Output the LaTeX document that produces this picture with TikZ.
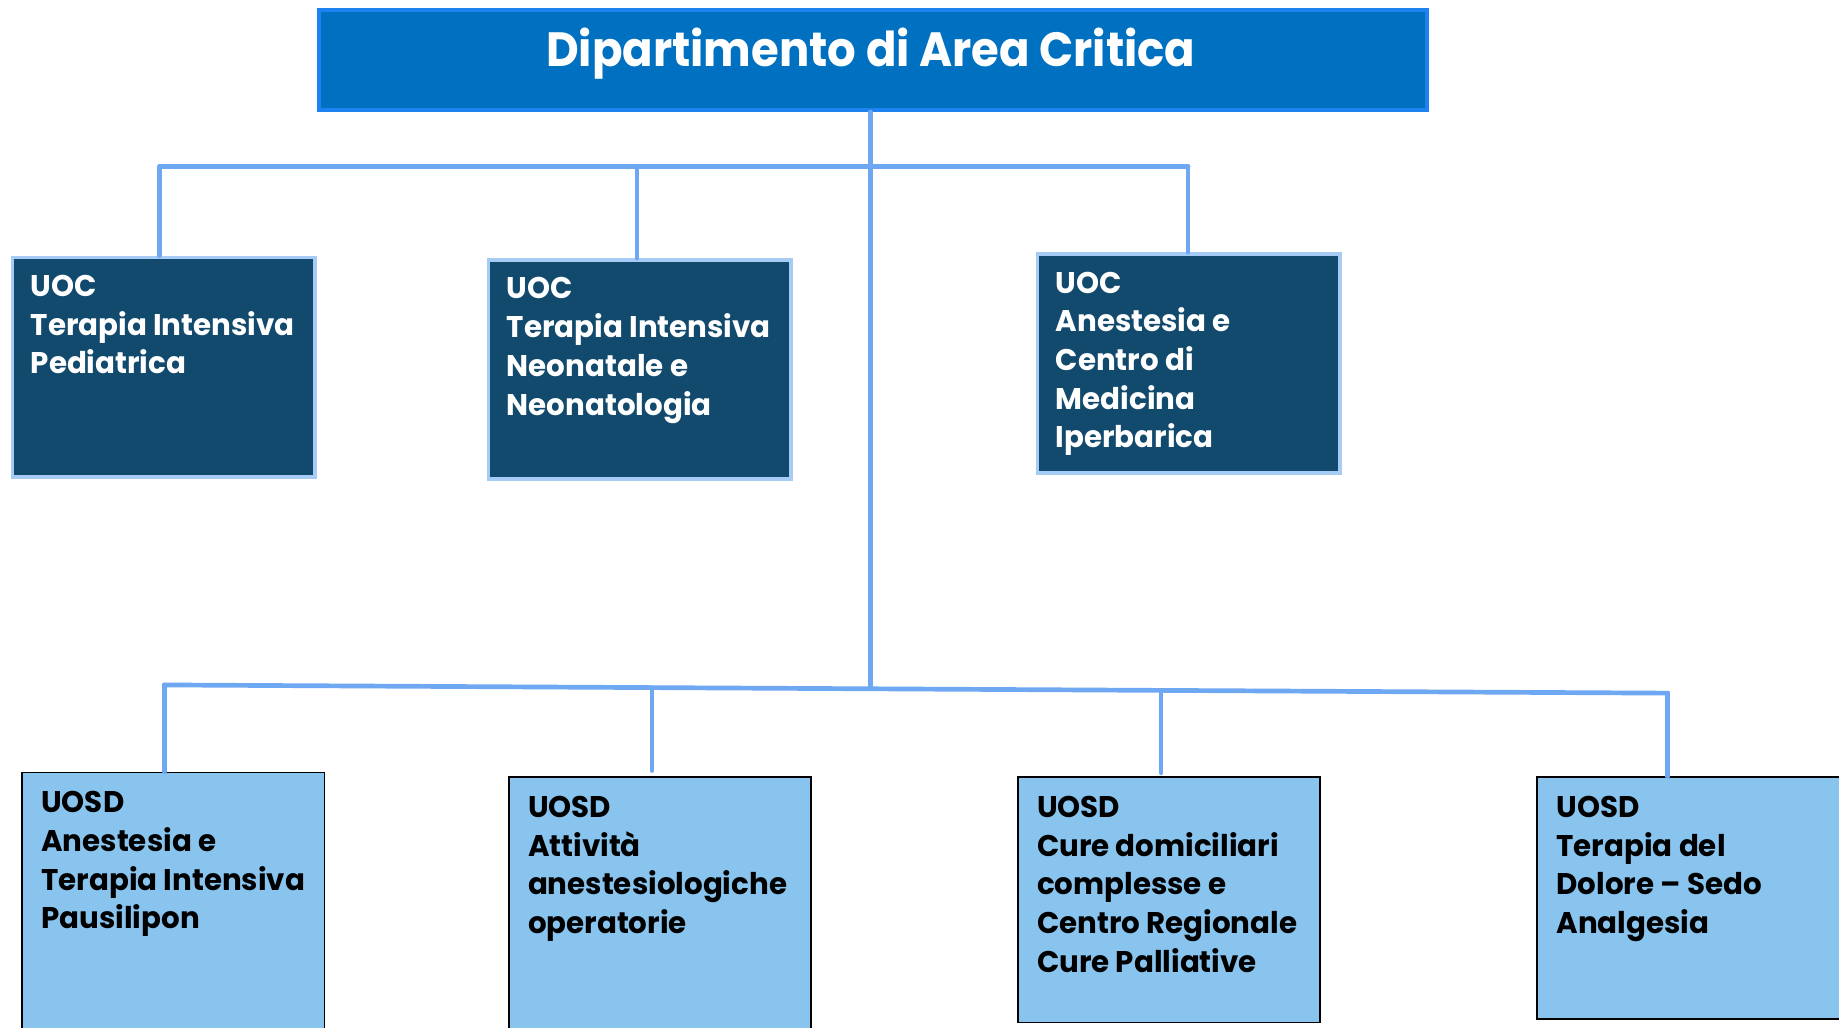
\documentclass[tikz,border=0pt]{standalone}
\usepackage{fontspec}
\setmainfont{Poppins}[FakeStretch=0.98]
\newfontfamily\titlefont{Poppins}[FakeStretch=0.935]
\usetikzlibrary{calc}
\definecolor{titleblue}{HTML}{0070C0}
\definecolor{titleedge}{HTML}{1E82F0}
\definecolor{darkbox}{HTML}{124A6E}
\definecolor{darkedge}{HTML}{A6CBF5}
\definecolor{lightbox}{HTML}{88C4EE}
\definecolor{linkblue}{HTML}{6EA8F2}
\tikzset{
  titlebox/.style={draw=titleedge, line width=3.5pt, fill=titleblue, rectangle, anchor=north west, inner sep=0pt, minimum width=945pt, minimum height=85pt},
  uocbox/.style={draw=darkedge, line width=3pt, fill=darkbox, rectangle, anchor=north west, inner sep=0pt, minimum width=258pt, minimum height=187pt},
  uosdbox/.style={draw=black, line width=1.5pt, fill=lightbox, rectangle, anchor=north west, inner sep=0pt, minimum width=258pt},
  uoctext/.style={anchor=north west, align=left, inner sep=0pt, text=white, font=\fontsize{25.5}{33}\selectfont\bfseries},
  uosdtext/.style={anchor=north west, align=left, inner sep=0pt, text=black, font=\fontsize{25.5}{33}\selectfont\bfseries},
  link/.style={draw=linkblue, line width=4pt, line cap=round},
}
\begin{document}
\begin{tikzpicture}[x=1pt, y=-1pt]
\useasboundingbox (0,0) rectangle (1568,876);
% title
\node[titlebox] (T) at (270,7) {};
\node[anchor=base, text=white, inner sep=0pt, font=\fontsize{41}{48}\selectfont\titlefont\bfseries] (Tt) at (742.5,57) {Dipartimento di Area Critica};
\coordinate (trunk) at (742,587.3);
\coordinate (ul) at (136,142);
\coordinate (ur) at (1013,142);
\coordinate (um) at (543,142);
\coordinate (ll) at (140,584);
\coordinate (lr) at (1422,591);
\coordinate (l5) at (556,586.3);
\coordinate (l6) at (990,588.6);
% upper boxes
\node[uocbox] (b1) at (9,218) {};
\node[uocbox] (b2) at (415,220) {};
\node[uocbox] (b3) at (883,215) {};
\node[uoctext] (t1) at ([shift={(17,16.5)}]b1.north west) {UOC\\Terapia Intensiva\\Pediatrica};
\node[uoctext] (t2) at ([shift={(17,16.5)}]b2.north west) {UOC\\Terapia Intensiva\\Neonatale e\\Neonatologia};
\node[uoctext] (t3) at ([shift={(17,16.5)}]b3.north west) {UOC\\Anestesia e\\Centro di\\Medicina\\Iperbarica};
% lower boxes
\node[uosdbox, minimum height=240pt] (b4) at (18,658) {};
\node[uosdbox, minimum height=240pt] (b5) at (433,662) {};
\node[uosdbox, minimum height=209pt] (b6) at (867,662) {};
\node[uosdbox, minimum height=206pt] (b7) at (1310,662) {};
\node[uosdtext] (t4) at ([shift={(17,16.5)}]b4.north west) {UOSD\\Anestesia e\\Terapia Intensiva\\Pausilipon};
\node[uosdtext] (t5) at ([shift={(17,16.5)}]b5.north west) {UOSD\\Attività\\anestesiologiche\\operatorie};
\node[uosdtext] (t6) at ([shift={(17,16.5)}]b6.north west) {UOSD\\Cure domiciliari\\complesse e\\Centro Regionale\\Cure Palliative};
\node[uosdtext] (t7) at ([shift={(17,16.5)}]b7.north west) {UOSD\\Terapia del\\Dolore – Sedo\\Analgesia};
% links
\draw[link] (T.south -| trunk) -- (trunk);
\draw[link] (ul) -- (ur);
\draw[link] (ul) -- (ul |- b1.north);
\draw[link] (um) -- (um |- b2.north);
\draw[link] (ur) -- (ur |- b3.north);
\draw[link] (ll) -- (lr);
\draw[link] (ll) -- (ll |- b4.north);
\draw[link] (l5) -- ($(l5 |- b5.north)+(0,-5)$);
\draw[link] (l6) -- ($(l6 |- b6.north)+(0,-3)$);
\draw[link] (lr) -- (lr |- b7.north);
\end{tikzpicture}
\end{document}
